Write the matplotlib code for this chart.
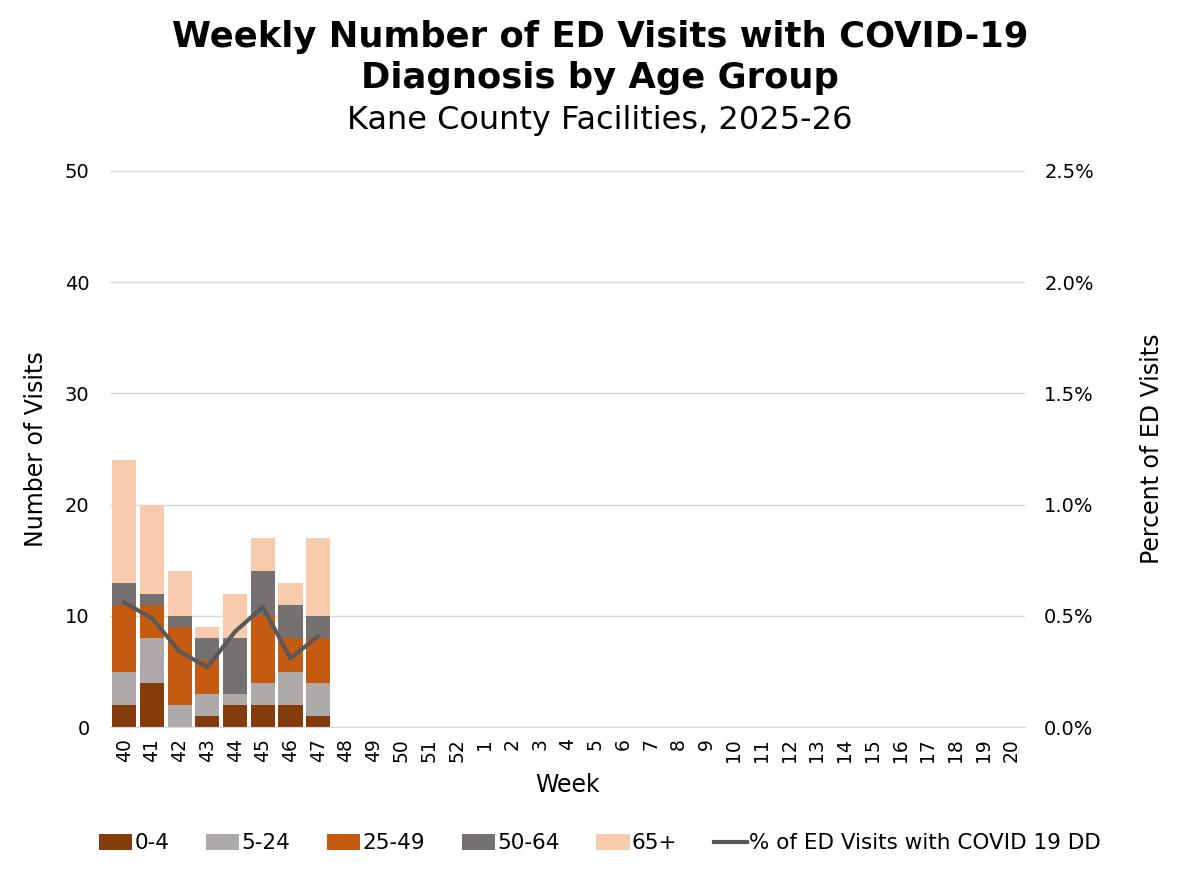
import numpy as np
import matplotlib
matplotlib.use('Agg')
import matplotlib.pyplot as plt
from matplotlib.ticker import FuncFormatter

# Weeks of the 2025-26 season
weeks = [str(w) for w in range(40, 53)] + [str(w) for w in range(1, 21)]

# Weekly counts by age group (only weeks 40-47 reported so far)
age_0_4   = [2, 4, 0, 1, 2, 2, 2, 1]
age_5_24  = [3, 4, 2, 2, 1, 2, 3, 3]
age_25_49 = [6, 3, 7, 3, 0, 6, 3, 4]
age_50_64 = [2, 1, 1, 2, 5, 4, 3, 2]
age_65    = [11, 8, 4, 1, 4, 3, 2, 7]

# Percent of ED visits with COVID-19 diagnosis
pct_ed = [0.56, 0.49, 0.34, 0.27, 0.43, 0.54, 0.31, 0.41]

groups = ['0-4', '5-24', '25-49', '50-64', '65+']
colors = ['#843C0C', '#AEAAAA', '#C55A11', '#767171', '#F8CBAD']
series = [age_0_4, age_5_24, age_25_49, age_50_64, age_65]

plt.rcParams['font.family'] = 'DejaVu Sans'

fig = plt.figure(figsize=(12, 8.72), dpi=100)
ax = fig.add_axes([0.092, 0.166, 0.762, 0.638])

x_all = np.arange(len(weeks))
n = len(age_0_4)
x = x_all[:n]
bottom = np.zeros(n)
handles = []
for vals, col, lab in zip(series, colors, groups):
    b = ax.bar(x, vals, bottom=bottom, width=0.87, color=col, label=lab, zorder=2)
    bottom += np.array(vals)
    handles.append(b)

ax.set_xlim(-0.5, len(weeks) - 0.5)
ax.set_ylim(0, 50)
ax.set_yticks(range(0, 51, 10))
ax.set_xticks(x_all)
ax.set_xticklabels(weeks, rotation=90, fontsize=13.5)
ax.tick_params(axis='y', labelsize=14, length=0, pad=15)
ax.tick_params(axis='x', length=0, pad=8)
ax.grid(axis='y', color='#D9D9D9', lw=1, zorder=0)
for s in ['top', 'right', 'left']:
    ax.spines[s].set_visible(False)
ax.spines['bottom'].set_color('#D9D9D9')
ax.set_ylabel('Number of Visits', fontsize=17, labelpad=12)
ax.set_xlabel('Week', fontsize=17, labelpad=8)

ax2 = ax.twinx()
line, = ax2.plot(x, pct_ed, color='#595959', lw=3, zorder=3,
                 label='% of ED Visits with COVID 19 DD')
ax2.set_ylim(0, 2.5)
ax2.set_yticks(np.arange(0, 2.51, 0.5))
ax2.yaxis.set_major_formatter(FuncFormatter(lambda v, p: f'{v:.1f}%'))
ax2.tick_params(axis='y', labelsize=14, length=0, pad=14)
for s in ['top', 'right', 'left', 'bottom']:
    ax2.spines[s].set_visible(False)
ax2.set_ylabel('Percent of ED Visits', fontsize=17, labelpad=33)

fig.text(0.5, 0.957, 'Weekly Number of ED Visits with COVID-19', ha='center',
         va='center', fontsize=25.5, fontweight='bold')
fig.text(0.5, 0.91, 'Diagnosis by Age Group', ha='center', va='center',
         fontsize=25.5, fontweight='bold')
fig.text(0.5, 0.862, 'Kane County Facilities, 2025-26', ha='center',
         va='center', fontsize=23)

fig.legend(handles + [line], groups + [line.get_label()], loc='center',
           bbox_to_anchor=(0.5, 0.033), ncol=6, frameon=False, fontsize=15.5,
           handlelength=1.55, handleheight=0.75, columnspacing=1.7,
           handletextpad=0.1)

fig.savefig('out.png', dpi=100)
